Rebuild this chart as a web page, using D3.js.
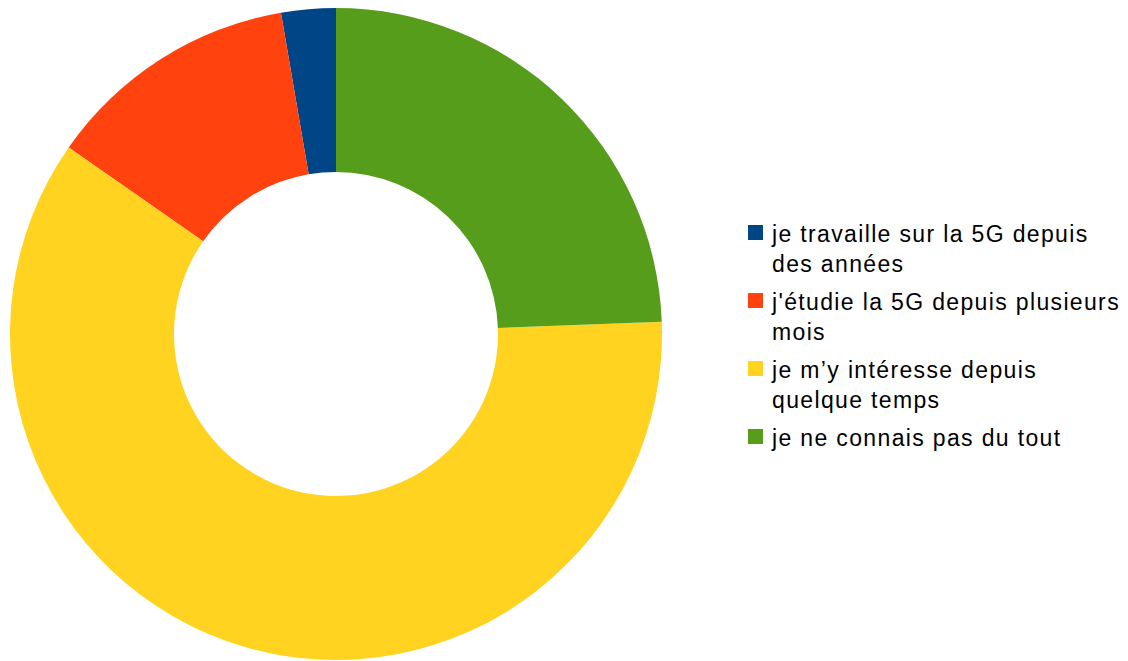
<!DOCTYPE html>
<html>
<head>
<meta charset="utf-8">
<script src="https://cdn.jsdelivr.net/npm/d3@7"></script>
<style>
  html, body { margin: 0; padding: 0; background: #ffffff; }
  svg { display: block; }
</style>
</head>
<body>
<script>
// Survey answers: familiarity with 5G (share of respondents, %)
const categories = [
  ["je travaille sur la 5G depuis", "des années"],
  ["j'étudie la 5G depuis plusieurs", "mois"],
  ["je m’y intéresse depuis", "quelque temps"],
  ["je ne connais pas du tout"]
];
const values = [2.7, 12.6, 60.3, 24.4];
const colors = ["#004586", "#ff420e", "#ffd320", "#579d1c"];

const width = 1128, height = 661;
const cx = 336, cy = 334;
const outerR = 326, innerR = 162;

const svg = d3.select("body").append("svg")
  .attr("width", width)
  .attr("height", height);

// Slices run counter-clockwise from 12 o'clock, in data order
const pie = d3.pie().sort(null).startAngle(0).endAngle(-2 * Math.PI);
const arc = d3.arc().innerRadius(innerR).outerRadius(outerR);

const data = values.map((v, i) => ({ value: v, label: categories[i], color: colors[i] }));

svg.append("g")
  .attr("transform", `translate(${cx},${cy})`)
  .selectAll("path")
  .data(pie.value(d => d.value)(data))
  .join("path")
  .attr("d", arc)
  .attr("fill", d => d.data.color);

// Legend
const legendX = 748, legendTop = 225, itemGap = 8, lineH = 30, box = 15;
const legend = svg.append("g").attr("font-family", "'Liberation Sans', Arial, sans-serif")
  .attr("font-size", 23).attr("letter-spacing", 1.35).attr("fill", "#000");

let y = legendTop;
data.forEach(d => {
  const g = legend.append("g").attr("transform", `translate(${legendX},${y})`);
  g.append("rect").attr("x", 0).attr("y", 0).attr("width", box).attr("height", box).attr("fill", d.color);
  d.label.forEach((line, j) => {
    g.append("text").attr("x", 24).attr("y", 17 + j * lineH).text(line);
  });
  y += d.label.length * lineH + itemGap;
});
</script>
</body>
</html>
